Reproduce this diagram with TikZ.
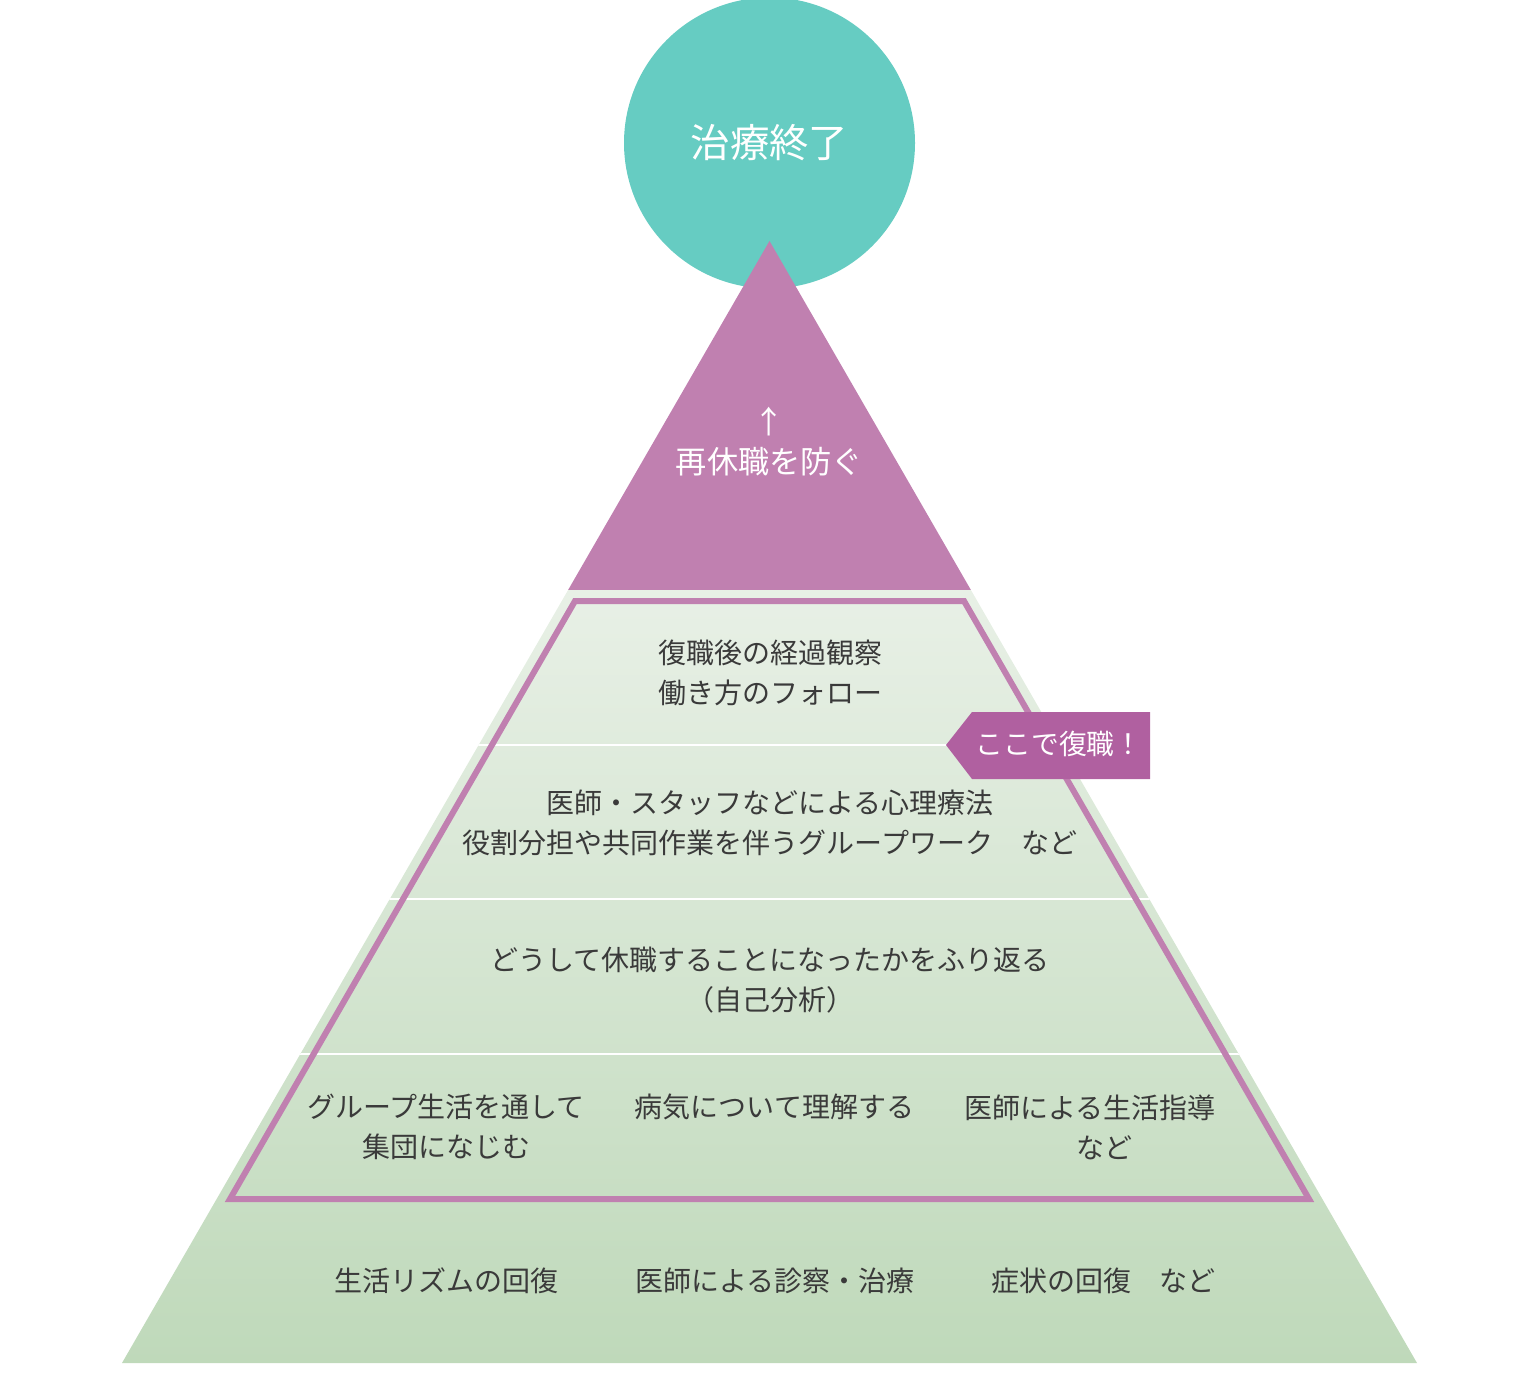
\documentclass[tikz,border=0pt]{standalone}
\usepackage{fontspec}
\setmainfont{Noto Sans CJK JP}
\usepackage{xcolor}
\usepackage{tikz}

\definecolor{goalteal}{HTML}{66CCC2}
\definecolor{tipmauve}{HTML}{C080B0}
\definecolor{tagmauve}{HTML}{B060A0}
\definecolor{bandtop}{HTML}{E8F0E6}
\definecolor{bandbot}{HTML}{BFD9BA}
\definecolor{inkgray}{HTML}{3A3A3A}

\begin{document}
\begin{tikzpicture}[
  x={(0.5pt,0pt)}, y={(0pt,-0.5pt)},
  txt/.style={text=inkgray, inner sep=0pt, align=center,
              font=\fontsize{14}{20}\selectfont},
  wtxt/.style={text=white, inner sep=0pt, align=center},
  sep/.style={draw=white, line width=1pt},
  frame/.style={draw=tipmauve, line width=3pt, line join=miter},
]
\useasboundingbox (0,0) rectangle (1540,1400);

%% ---- Goal circle ----
\node[circle, fill=goalteal, minimum size=145.5pt, inner sep=0pt,
      wtxt, font=\fontsize{19.7}{22}\selectfont] (goal) at (769.5,143) {治療終了};

%% ---- Pyramid ----
\coordinate (apex) at (769.5,241);
\coordinate (bl)   at (122,1363);
\coordinate (br)   at (1417,1363);
\begin{scope}
  \clip (apex) -- (bl) -- (br) -- cycle;
  \fill[tipmauve] (0,230) rectangle (1540,590);
  \shade[top color=bandtop, bottom color=bandbot] (0,590) rectangle (1540,1363);
  \foreach \yy in {745,899,1054}
    \draw[sep] (0,\yy) -- (1540,\yy);
\end{scope}

%% ---- Tip label ----
\node[wtxt, font=\fontsize{15.6}{20}\selectfont] (tip) at (769.5,442)
  {↑\\再休職を防ぐ};

%% ---- Return-to-work frame ----
\draw[frame] (575,601) -- (964,601) -- (1309,1199) -- (230,1199) -- cycle;

%% ---- Band texts ----
\node[txt] (follow) at (770,673) {復職後の経過観察\\働き方のフォロー};
\node[txt] (therapy) at (770,823)
  {医師・スタッフなどによる心理療法\\役割分担や共同作業を伴うグループワーク　など};
\node[txt] (reflect) at (770,980)
  {どうして休職することになったかをふり返る\\（自己分析）};

\node[txt] (group) at (446,1127) {グループ生活を通して\\集団になじむ};
\node[txt] (learn) at (774.5,1107) {病気について理解する};
\node[txt, align=left, anchor=west] (guide) at (964,1127)
  {医師による生活指導\\　　　　など};

\node[txt] (rhythm) at (446.5,1281) {生活リズムの回復};
\node[txt] (treat)  at (775,1281) {医師による診察・治療};
\node[txt] (recov)  at (1103.5,1281) {症状の回復　など};

%% ---- Return tag ----
\fill[tagmauve] (946,745) -- (972,712) -- (1150,712) -- (1150,779)
  -- (972,779) -- cycle;
\node[wtxt, font=\fontsize{13.9}{16}\selectfont] (back) at (1059,744) {ここで復職！};

\end{tikzpicture}
\end{document}
